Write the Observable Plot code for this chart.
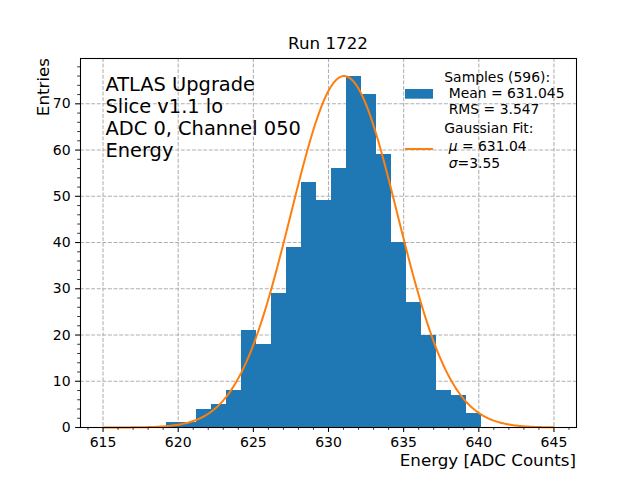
<!DOCTYPE html>
<html>
<head>
<meta charset="utf-8">
<script src="https://cdn.jsdelivr.net/npm/d3@7"></script>
<script src="https://cdn.jsdelivr.net/npm/@observablehq/plot@0.6"></script>
<style>
  html, body { margin: 0; padding: 0; background: white; }
  #chart { width: 640px; height: 480px; }
</style>
</head>
<body>
<div id="chart"></div>
<script>
// ---- data ----
const binLeft = [619.2, 620.2, 621.2, 622.2, 623.2, 624.2, 625.2, 626.2, 627.2, 628.2, 629.2,
                 630.2, 631.2, 632.2, 633.2, 634.2, 635.2, 636.2, 637.2, 638.2, 639.2];
const binWidth = 1.0;
const counts = [1, 1, 4, 5, 8, 21, 18, 29, 39, 53, 49, 56, 76, 72, 59, 40, 27, 20, 8, 7, 3];

// Gaussian fit parameters (from legend) and fitted amplitude
const fitMu = 631.04;
const fitSigma = 3.55;
const fitAmp = 76.0;
const fitRange = [615, 645];

const xTicks = [615, 620, 625, 630, 635, 640, 645];
const xMinor = [614, 616, 617, 618, 619, 621, 622, 623, 624, 626, 627, 628, 629, 631, 632, 633, 634,
                636, 637, 638, 639, 641, 642, 643, 644, 646];
const yTicks = [0, 10, 20, 30, 40, 50, 60, 70];
const yMinor = [2, 4, 6, 8, 12, 14, 16, 18, 22, 24, 26, 28, 32, 34, 36, 38, 42, 44, 46, 48,
                52, 54, 56, 58, 62, 64, 66, 68, 72, 74, 76, 78];

const titleText = "Run 1722";
const xLabel = "Energy [ADC Counts]";
const yLabel = "Entries";
const annotation = ["ATLAS Upgrade", "Slice v1.1 lo", "ADC 0, Channel 050", "Energy"];
const nSamples = 596, meanVal = "631.045", rmsVal = "3.547";

// ---- tables ----
const hist = binLeft.map((x, i) => ({x1: x, x2: x + binWidth, y: counts[i]}));
const curve = d3.range(fitRange[0], fitRange[1] + 0.001, 0.1).map(x => ({
  x, y: fitAmp * Math.exp(-0.5 * ((x - fitMu) / fitSigma) ** 2)
}));

const gridStyle = {stroke: "#b0b0b0", strokeOpacity: 1, strokeWidth: 1.07, strokeDasharray: "3.9,1.7"};

const svg = Plot.plot({
  width: 640,
  height: 480,
  marginLeft: 80,
  marginRight: 64,
  marginTop: 58,
  marginBottom: 53,
  style: {fontFamily: "DejaVu Sans", fontSize: "14px", background: "white", color: "black"},
  x: {domain: [613.5, 646.5]},
  y: {domain: [0, 79.8]},
  marks: [
    Plot.gridX(xTicks, gridStyle),
    Plot.gridY(yTicks, gridStyle),
    Plot.rectY(hist, {x1: "x1", x2: "x2", y: "y", fill: "#1f77b4", shapeRendering: "crispEdges"}),
    Plot.line(curve, {x: "x", y: "y", stroke: "#ff7f0e", strokeWidth: 2}),
    Plot.frame({stroke: "black", strokeWidth: 1.07}),
    Plot.axisX(xTicks, {tickSize: 4.9, tickPadding: 5, fontSize: 14, label: null, strokeWidth: 1.07}),
    Plot.axisX(xMinor, {tickSize: 2.8, tickFormat: () => "", label: null, strokeWidth: 0.8}),
    Plot.axisY(yTicks, {tickSize: 4.9, tickPadding: 5, fontSize: 14, label: null, strokeWidth: 1.07}),
    Plot.axisY(yMinor, {tickSize: 2.8, tickFormat: () => "", label: null, strokeWidth: 0.8})
  ]
});

document.getElementById("chart").appendChild(svg);

const s = d3.select(svg);
// drop the empty labels of the minor-tick axes
s.selectAll("text").filter(function () { return this.textContent === ""; }).remove();

const ff = "DejaVu Sans";

// title
s.append("text").attr("x", 328).attr("y", 48.5).attr("text-anchor", "middle")
  .attr("font-family", ff).attr("font-size", 16.7).attr("fill", "black").text(titleText);
// x label
s.append("text").attr("x", 576).attr("y", 466).attr("text-anchor", "end")
  .attr("font-family", ff).attr("font-size", 16.7).attr("fill", "black").text(xLabel);
// y label
s.append("text").attr("transform", "translate(48.5,58) rotate(-90)").attr("text-anchor", "end")
  .attr("font-family", ff).attr("font-size", 16.7).attr("fill", "black").text(yLabel);

// annotation block
annotation.forEach((t, i) => {
  s.append("text").attr("x", 105.5).attr("y", 91 + i * 21.9).attr("text-anchor", "start")
    .attr("font-family", ff).attr("font-size", 19.4).attr("fill", "black").text(t);
});

// legend
const lg = s.append("g").attr("font-family", ff).attr("font-size", 13.9).attr("fill", "black")
  .attr("text-anchor", "start");
lg.append("rect").attr("x", 405).attr("y", 89).attr("width", 28).attr("height", 9.7).attr("fill", "#1f77b4");
lg.append("line").attr("x1", 405).attr("x2", 433).attr("y1", 149).attr("y2", 149)
  .attr("stroke", "#ff7f0e").attr("stroke-width", 2);
const legendLines = [
  {y: 81.7, parts: [["Samples (" + nSamples + "):", "normal"]]},
  {y: 97.9, parts: [["\u00a0Mean = " + meanVal, "normal"]]},
  {y: 114.2, parts: [["\u00a0RMS = " + rmsVal, "normal"]]},
  {y: 133.3, parts: [["Gaussian Fit:", "normal"]]},
  {y: 151.0, parts: [["\u00a0", "normal"], ["\u03bc", "italic"], [" = " + fitMu.toFixed(2), "normal"]]},
  {y: 168.3, parts: [["\u00a0", "normal"], ["\u03c3", "italic"], ["=" + fitSigma.toFixed(2), "normal"]]}
];
legendLines.forEach(l => {
  const t = lg.append("text").attr("x", 444.3).attr("y", l.y).attr("text-anchor", "start")
    .style("white-space", "pre");
  l.parts.forEach(([txt, st]) => t.append("tspan").attr("font-style", st).text(txt));
});
</script>
</body>
</html>
